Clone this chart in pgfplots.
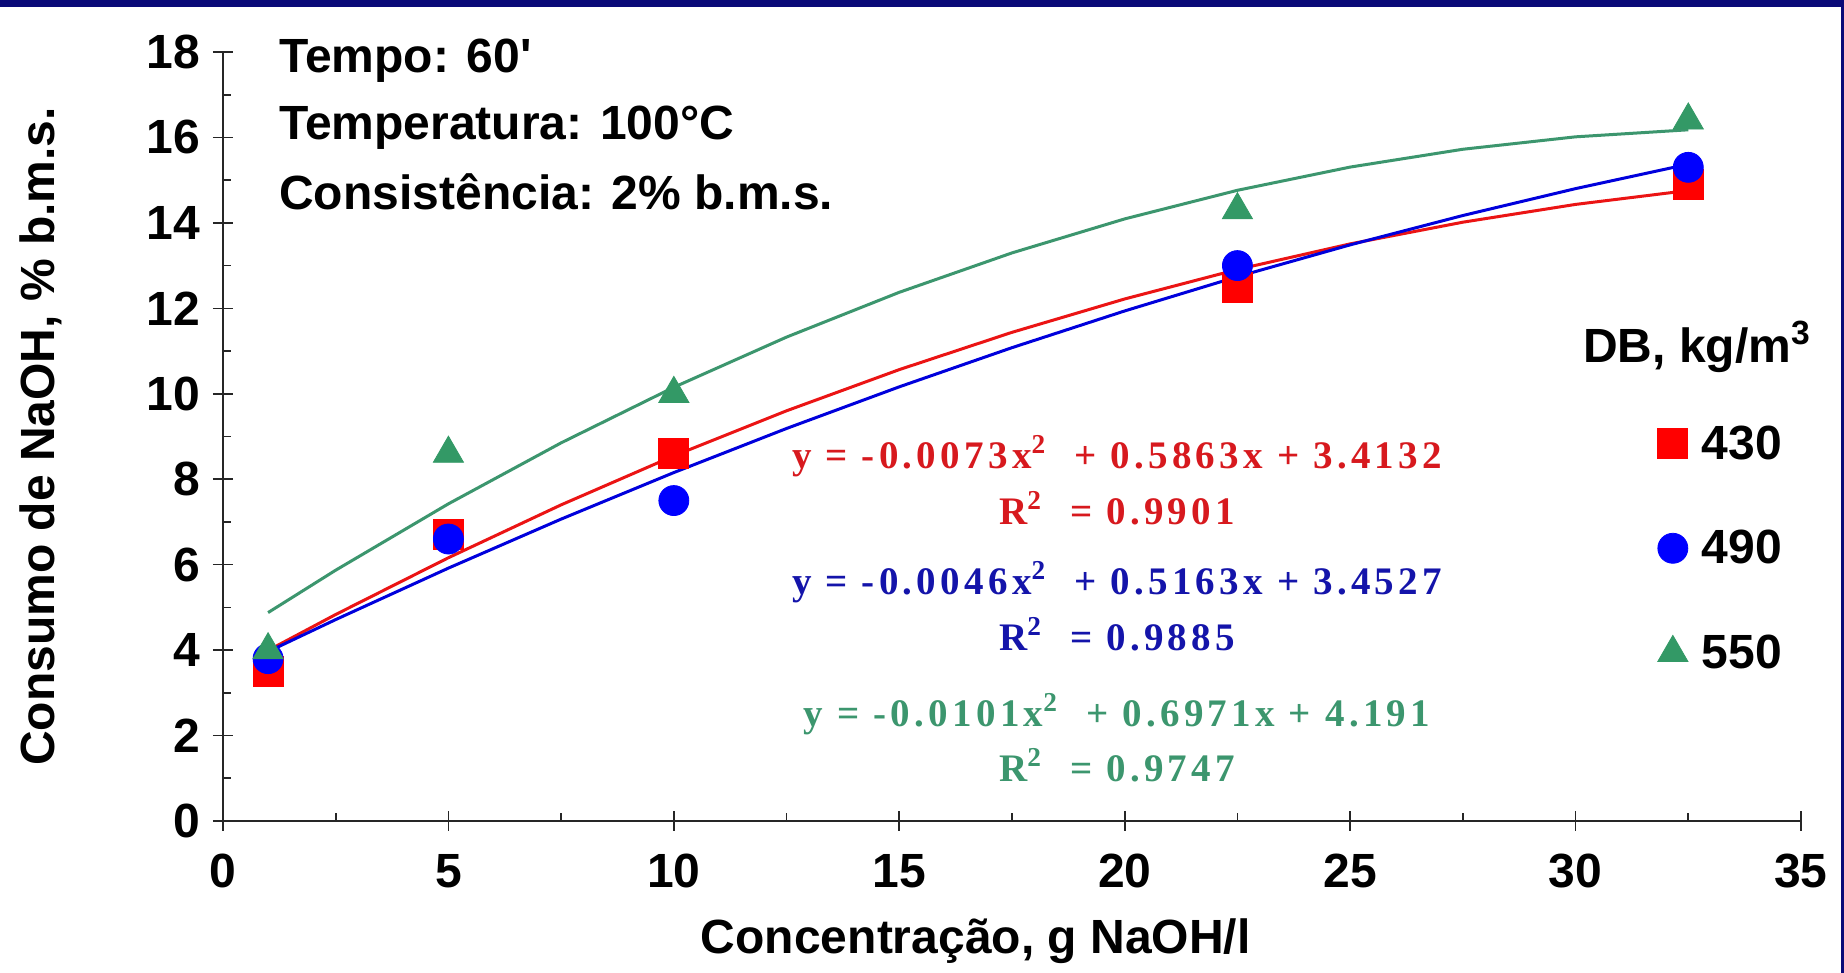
\documentclass[border=0pt]{standalone}
\usepackage{fontspec}
\setmainfont{Liberation Sans}
\newfontfamily\eqfont[LetterSpace=11]{Liberation Serif}
\usepackage{pgfplots}
\pgfplotsset{compat=1.18}
\definecolor{navyframe}{RGB}{10,10,120}
\definecolor{mred}{RGB}{255,0,0}
\definecolor{mblue}{RGB}{0,0,255}
\definecolor{mgreen}{RGB}{51,153,102}
\definecolor{lred}{RGB}{235,20,20}
\definecolor{lblue}{RGB}{0,0,220}
\definecolor{lgreen}{RGB}{60,150,110}
\definecolor{ered}{RGB}{215,25,30}
\definecolor{eblue}{RGB}{20,20,170}
\definecolor{egreen}{RGB}{60,150,110}
\newcommand{\bigfont}{\bfseries\fontsize{24}{28}\selectfont}
\begin{document}
\begin{tikzpicture}
\fill[white] (-111.5pt,-76pt) rectangle (810.5pt,410.5pt);
\fill[navyframe] (-111.5pt,407pt) rectangle (810.5pt,410.5pt);
\fill[navyframe] (809pt,-76pt) rectangle (810.5pt,410.5pt);
\begin{axis}[
  at={(0,0)}, anchor=south west,
  scale only axis, width=789pt, height=384.5pt,
  xmin=0, xmax=35, ymin=0, ymax=18,
  axis lines=left,
  axis line style={-, line width=1pt, black!85},
  xtick={0,5,...,35}, ytick={0,2,...,18},
  minor x tick num=1, minor y tick num=1,
  tick align=inside, major tick length=5pt, minor tick length=4pt,
  tick style={black!85, line width=0.8pt},
  extra x ticks={0,5,...,35}, extra x tick labels={},
  extra x tick style={tick align=outside, major tick length=5pt},
  extra y ticks={0,2,...,18}, extra y tick labels={},
  extra y tick style={tick align=outside, major tick length=5pt},
  /pgf/number format/assume math mode=true,
  ticklabel style={font=\bigfont},
  xticklabel style={yshift=-13pt},
  yticklabel style={xshift=-8pt},
  xlabel={Concentração, g NaOH/l},
  ylabel={Consumo de NaOH, \% b.m.s.},
  xlabel style={font=\bigfont, at={(axis description cs:0.477,-0.156)}, anchor=center},
  ylabel style={font=\bigfont, at={(axis description cs:-0.1153,0.5)}, rotate=0, anchor=center},
  clip=false,
  legend style={at={(0.909,0.52)}, anchor=north west, draw=none, fill=none,
    font=\bigfont, row sep=30pt, /tikz/column sep=5pt, inner sep=0pt, nodes={inner sep=2pt}},
  legend cell align=left,
]
% trendlines
\addplot[lred, line width=1.5pt, forget plot] coordinates {
(1,3.9922) (2.5,4.8334) (5,6.1622) (7.5,7.3999) (10,8.5462) (12.5,9.6014)
(15,10.5652) (17.5,11.4379) (20,12.2192) (22.5,12.9094) (25,13.5082)
(27.5,14.0159) (30,14.4322) (32.5,14.7574)};
\addplot[lblue, line width=1.5pt, forget plot] coordinates {
(1,3.9644) (2.5,4.7147) (5,5.9192) (7.5,7.0662) (10,8.1557) (12.5,9.1877)
(15,10.1622) (17.5,11.0792) (20,11.9387) (22.5,12.7407) (25,13.4852)
(27.5,14.1722) (30,14.8017) (32.5,15.3737)};
\addplot[lgreen, line width=1.5pt, forget plot] coordinates {
(1,4.878) (2.5,5.8707) (5,7.424) (7.5,8.8512) (10,10.152) (12.5,11.3267)
(15,12.375) (17.5,13.2972) (20,14.093) (22.5,14.7627) (25,15.306)
(27.5,15.7232) (30,16.014) (32.5,16.1787)};
% data
\addplot[only marks, mark=square*, mark size=7.5pt, mark options={draw=mred, fill=mred}]
 coordinates {(1,3.5) (5,6.7) (10,8.6) (22.5,12.5) (32.5,14.9)};
\addlegendentry{430}
\addplot[only marks, mark=*, mark size=7.5pt, mark options={draw=mblue, fill=mblue}]
 coordinates {(1,3.8) (5,6.6) (10,7.5) (22.5,13.0) (32.5,15.3)};
\addlegendentry{490}
\addplot[only marks, mark=triangle*, mark size=8.7pt, mark options={draw=mgreen, fill=mgreen}]
 coordinates {(1,4.0) (5,8.6) (10,10.0) (22.5,14.3) (32.5,16.4)};
\addlegendentry{550}
% annotations
\node[anchor=west, inner sep=0pt, font=\bigfont] at (axis cs:1.24,17.79) {Tempo: 60\textquotesingle};
\node[anchor=west, inner sep=0pt, font=\bigfont] at (axis cs:1.24,16.22) {Temperatura: 100°C};
\node[anchor=west, inner sep=0pt, font=\bigfont] at (axis cs:1.24,14.72) {Consistência: 2\% b.m.s.};
\node[anchor=west, inner sep=0pt, font=\bigfont] at (axis cs:30.16,11.1) {DB, kg/m\textsuperscript{3}};
\node[text=ered, font=\eqfont\bfseries\fontsize{19.5}{22}\selectfont] at (axis cs:19.83,8.54) {y = -0.0073x\textsuperscript{2}\ \ + 0.5863x + 3.4132};
\node[text=ered, font=\eqfont\bfseries\fontsize{19.5}{22}\selectfont] at (axis cs:19.83,7.33) {R\textsuperscript{2}\ \ = 0.9901};
\node[text=eblue, font=\eqfont\bfseries\fontsize{19.5}{22}\selectfont] at (axis cs:19.83,5.58) {y = -0.0046x\textsuperscript{2}\ \ + 0.5163x + 3.4527};
\node[text=eblue, font=\eqfont\bfseries\fontsize{19.5}{22}\selectfont] at (axis cs:19.83,4.37) {R\textsuperscript{2}\ \ = 0.9885};
\node[text=egreen, font=\eqfont\bfseries\fontsize{19.5}{22}\selectfont] at (axis cs:19.83,2.51) {y = -0.0101x\textsuperscript{2}\ \ + 0.6971x + 4.191};
\node[text=egreen, font=\eqfont\bfseries\fontsize{19.5}{22}\selectfont] at (axis cs:19.83,1.30) {R\textsuperscript{2}\ \ = 0.9747};
\end{axis}
\pgfresetboundingbox
\path[use as bounding box] (-111.5pt,-76pt) rectangle (810.5pt,410.5pt);
\end{tikzpicture}
\end{document}
